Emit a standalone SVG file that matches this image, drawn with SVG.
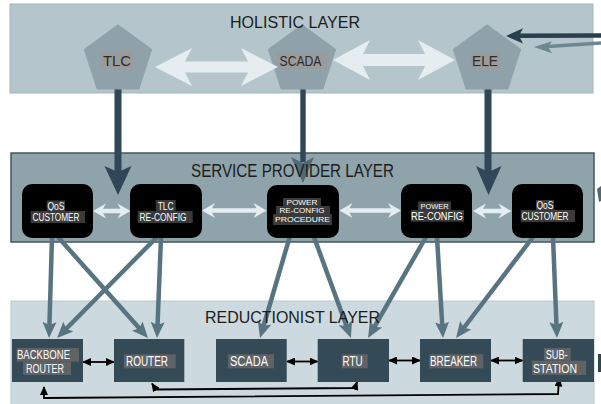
<svg xmlns="http://www.w3.org/2000/svg" width="601" height="404" viewBox="0 0 601 404">
<defs>
<style>
.layer-title{font-family:"Liberation Sans","DejaVu Sans",sans-serif;font-size:17px;fill:#1c1c1c;text-anchor:middle}
.pent{fill:#8fa2a9}
.plab{fill:#9b9b9b}
.ptxt{font-family:"Liberation Sans","DejaVu Sans",sans-serif;font-size:15px;fill:#2b2b2b;text-anchor:middle}
.snode{fill:#000}
.slab{fill:#3a3a3a}
.stxt{font-family:"Liberation Sans","DejaVu Sans",sans-serif;font-size:10px;fill:#fff;text-anchor:middle}
.stxt2{font-family:"Liberation Sans","DejaVu Sans",sans-serif;font-size:7.8px;fill:#fff;text-anchor:middle}
.rnode{fill:#344a57}
.rlab{fill:#5f6366}
.rtxt{font-family:"Liberation Sans","DejaVu Sans",sans-serif;font-size:14px;fill:#fff;text-anchor:middle}
.rtxt2{font-family:"Liberation Sans","DejaVu Sans",sans-serif;font-size:12.5px;fill:#fff;text-anchor:middle}
.white{fill:#e5edf0}
.gray{stroke:#587480;stroke-width:4.5;fill:none;marker-end:url(#gh)}
.blk{stroke:#000;stroke-width:1.8;fill:none;marker-start:url(#bh);marker-end:url(#bh)}
.dark{fill:#2f4757}
</style>
<marker id="gh" markerUnits="userSpaceOnUse" markerWidth="18" markerHeight="16" viewBox="0 0 18 16" refX="4" refY="8" orient="auto">
<path d="M0,1 L16,8 L0,15 L3,8 z" fill="#587480"/>
</marker>
<marker id="bh" markerUnits="userSpaceOnUse" markerWidth="9" markerHeight="8" viewBox="0 0 9 8" refX="8" refY="4" orient="auto-start-reverse">
<path d="M0,0 L9,4 L0,8 z" fill="#000"/>
</marker>
</defs>

<g id="holistic-layer">
<rect x="10" y="4" width="583" height="89" fill="#b4c5cb" stroke="#a3b6bd" stroke-width="1"/>
</g>
<g id="service-layer">
<rect x="11" y="153" width="583" height="89" fill="#8fa3ab" stroke="#40575f" stroke-width="1.5"/>
</g>
<g id="reductionist-layer">
<rect x="11" y="301" width="583" height="110" fill="#ccdadf" stroke="#b8c9cf" stroke-width="1"/>
</g>

<g id="connectors">
<rect class="dark" x="114.5" y="89" width="7" height="84"/>
<path class="dark" d="M104.5,166 L118,172 L131.5,166 L118,195 z"/>
<rect class="dark" x="300.3" y="89" width="5.4" height="73"/>
<path d="M291,157 L303,163 L314,157 L303,183 z" fill="#4f6975"/>
<rect class="dark" x="484.5" y="89" width="7" height="84"/>
<path class="dark" d="M476,166 L488.5,172 L501.5,166 L488.5,195 z"/>
<line x1="601" y1="35.5" x2="518" y2="35.8" stroke="#2a3f4d" stroke-width="4.5"/>
<path d="M506,36 L523,28.3 L519,36 L523,43.5 z" fill="#2a3f4d"/>
<line x1="601" y1="43" x2="548" y2="46.5" stroke="#6d8791" stroke-width="3.5"/>
<path d="M534,47 L552,41.3 L548,47 L552,53.3 z" fill="#6d8791"/>
<polygon class="white" points="93,211 106,203.5 103,208.8 120.5,208.8 117.5,203.5 130.5,211 117.5,218.5 120.5,213.2 103,213.2 106,218.5"/>
<polygon class="white" points="202,210.5 215,203 212,208.3 256.5,208.3 253.5,203 266.5,210.5 253.5,218 256.5,212.7 212,212.7 215,218"/>
<polygon class="white" points="339.5,210.5 352.5,203 349.5,208.3 391,208.3 388,203 401,210.5 388,218 391,212.7 349.5,212.7 352.5,218"/>
<polygon class="white" points="473,211 486,203.5 483,208.8 501.5,208.8 498.5,203.5 511.5,211 498.5,218.5 501.5,213.2 483,213.2 486,218.5"/>
<line class="gray" x1="52" y1="237" x2="49.4" y2="326"/>
<line class="gray" x1="58" y1="237" x2="140" y2="329.1"/>
<line class="gray" x1="157" y1="237" x2="65.5" y2="329.5"/>
<line class="gray" x1="161" y1="237" x2="157.5" y2="326"/>
<line class="gray" x1="290" y1="236" x2="263.4" y2="326.5"/>
<line class="gray" x1="314" y1="237" x2="346.8" y2="326.7"/>
<line class="gray" x1="426" y1="237" x2="374" y2="327.6"/>
<line class="gray" x1="437" y1="237" x2="442.3" y2="326"/>
<line class="gray" x1="533" y1="237" x2="463.3" y2="328.5"/>
<line class="gray" x1="553" y1="237" x2="556.5" y2="326"/>
<line class="blk" x1="83" y1="362" x2="114" y2="362"/>
<line class="blk" x1="287" y1="361.5" x2="317.5" y2="361.5"/>
<line class="blk" x1="389" y1="360.5" x2="420" y2="360.5"/>
<line class="blk" x1="491" y1="360.5" x2="522.5" y2="360.5"/>
<path class="blk" stroke-width="2" d="M152,383.5 L156,389.5 L355,388 L357,382"/>
<path class="blk" stroke-width="2" d="M44,387 L44,398 L558,394 L559,378.5"/>
<path d="M597,189 L599,202 L601,201 L601,186 z" fill="#506873"/>
<rect x="598" y="354" width="3" height="18" fill="#2f4552"/>
</g>

<g id="node-tlc">
<polygon class="pent" points="118,24.3 152.2,49.2 139.2,89.4 96.8,89.4 83.8,49.2"/>
<rect class="plab" x="101" y="52" width="32" height="17"/>
<text class="ptxt" x="117" y="66" textLength="28" lengthAdjust="spacingAndGlyphs">TLC</text>
</g>
<g id="node-scada-h">
<polygon class="pent" points="302,24.3 336.2,49.2 323.2,89.4 280.8,89.4 267.8,49.2"/>
<rect class="plab" x="277" y="53" width="50" height="16"/>
<text class="ptxt" x="300.5" y="66" textLength="42" lengthAdjust="spacingAndGlyphs">SCADA</text>
</g>
<g id="node-ele">
<polygon class="pent" points="487,24.3 521.2,49.2 508.2,89.4 465.8,89.4 452.8,49.2"/>
<rect class="plab" x="471" y="53" width="29" height="16"/>
<text class="ptxt" x="485" y="66" textLength="26" lengthAdjust="spacingAndGlyphs">ELE</text>
</g>
<g id="holistic-arrows">
<polygon class="white" points="155,67 192,48 185,61.5 248,61.5 241,48 278,67 241,86 248,72.5 185,72.5 192,86"/>
<polygon class="white" points="333,60 370,40 363,54 425,54 418,40 455,60 418,80 425,66 363,66 370,80"/>
</g>

<text class="layer-title" x="295" y="28" textLength="130" lengthAdjust="spacingAndGlyphs">HOLISTIC LAYER</text>
<text class="layer-title" x="292.5" y="177" textLength="203" lengthAdjust="spacingAndGlyphs" style="font-size:18px">SERVICE PROVIDER LAYER</text>
<text class="layer-title" x="292.5" y="323" textLength="175" lengthAdjust="spacingAndGlyphs">REDUCTIONIST LAYER</text>

<g id="node-qos-customer-1">
<rect class="snode" x="22" y="184" width="71" height="54" rx="10"/>
<rect class="slab" x="46.7" y="200.5" width="18.3" height="10.5"/>
<text class="stxt" x="56" y="209.5" textLength="17" lengthAdjust="spacingAndGlyphs">QoS</text>
<rect class="slab" x="30.7" y="211" width="54.3" height="12"/>
<text class="stxt" x="56" y="220.5" textLength="47" lengthAdjust="spacingAndGlyphs">CUSTOMER</text>
</g>
<g id="node-tlc-reconfig">
<rect class="snode" x="130" y="184" width="72" height="54" rx="10"/>
<rect class="slab" x="155.7" y="200" width="20" height="11"/>
<text class="stxt" x="165.7" y="209.5" textLength="16" lengthAdjust="spacingAndGlyphs">TLC</text>
<rect class="slab" x="137.7" y="211" width="55" height="12"/>
<text class="stxt" x="163" y="220.5" textLength="47" lengthAdjust="spacingAndGlyphs">RE-CONFIG</text>
</g>
<g id="node-power-reconfig-procedure">
<rect class="snode" x="267" y="185" width="72" height="53" rx="10"/>
<rect class="slab" x="283" y="198" width="38" height="8.5"/>
<text class="stxt2" x="302" y="204.5" textLength="31" lengthAdjust="spacingAndGlyphs">POWER</text>
<rect class="slab" x="276" y="206" width="54" height="8.5"/>
<text class="stxt2" x="302" y="213.3" textLength="45" lengthAdjust="spacingAndGlyphs">RE-CONFIG</text>
<rect class="slab" x="273" y="214" width="59" height="11"/>
<text class="stxt2" x="302.5" y="222.3" textLength="55" lengthAdjust="spacingAndGlyphs">PROCEDURE</text>
</g>
<g id="node-power-reconfig">
<rect class="snode" x="401" y="184" width="71" height="54" rx="10"/>
<rect class="slab" x="418" y="201.5" width="33" height="8.5"/>
<text class="stxt2" x="434.5" y="209" textLength="28" lengthAdjust="spacingAndGlyphs">POWER</text>
<rect class="slab" x="411" y="210" width="53" height="11.7"/>
<text class="stxt" x="437" y="219.5" textLength="52" lengthAdjust="spacingAndGlyphs">RE-CONFIG</text>
</g>
<g id="node-qos-customer-2">
<rect class="snode" x="512" y="184" width="71" height="54" rx="10"/>
<rect class="slab" x="536" y="200" width="18" height="10"/>
<text class="stxt" x="545" y="209" textLength="17" lengthAdjust="spacingAndGlyphs">QoS</text>
<rect class="slab" x="520.7" y="210" width="54.3" height="12"/>
<text class="stxt" x="545" y="219.5" textLength="47" lengthAdjust="spacingAndGlyphs">CUSTOMER</text>
</g>

<g id="node-backbone-router">
<rect class="rnode" x="12" y="339" width="71" height="43"/>
<rect class="rlab" x="16.7" y="348" width="62.3" height="13.7"/>
<text class="rtxt2" x="43.5" y="359" textLength="53" lengthAdjust="spacingAndGlyphs">BACKBONE</text>
<rect class="rlab" x="23" y="361.7" width="48" height="13.3"/>
<text class="rtxt2" x="45" y="373" textLength="38" lengthAdjust="spacingAndGlyphs">ROUTER</text>
</g>
<g id="node-router">
<rect class="rnode" x="114" y="339" width="70.3" height="43"/>
<rect class="rlab" x="124" y="354.3" width="51.7" height="14"/>
<text class="rtxt" x="147" y="366" textLength="42" lengthAdjust="spacingAndGlyphs">ROUTER</text>
</g>
<g id="node-scada-r">
<rect class="rnode" x="216" y="339" width="70.7" height="43"/>
<rect class="rlab" x="228" y="354.3" width="46" height="14"/>
<text class="rtxt" x="249" y="366" textLength="38" lengthAdjust="spacingAndGlyphs">SCADA</text>
</g>
<g id="node-rtu">
<rect class="rnode" x="317.7" y="339" width="71.3" height="43"/>
<rect class="rlab" x="341.7" y="354.3" width="26" height="14"/>
<text class="rtxt" x="352.5" y="366" textLength="20" lengthAdjust="spacingAndGlyphs">RTU</text>
</g>
<g id="node-breaker">
<rect class="rnode" x="420" y="339" width="71" height="43"/>
<rect class="rlab" x="429.3" y="354.3" width="54" height="14"/>
<text class="rtxt" x="453.5" y="366" textLength="47" lengthAdjust="spacingAndGlyphs">BREAKER</text>
</g>
<g id="node-substation">
<rect class="rnode" x="522.7" y="339" width="71.3" height="43"/>
<rect class="rlab" x="544" y="348" width="26.7" height="12.7"/>
<text class="rtxt2" x="556.7" y="358.5" textLength="22" lengthAdjust="spacingAndGlyphs">SUB-</text>
<rect class="rlab" x="532" y="360.7" width="54" height="14.3"/>
<text class="rtxt2" x="555" y="373" textLength="44" lengthAdjust="spacingAndGlyphs">STATION</text>
</g>
</svg>
